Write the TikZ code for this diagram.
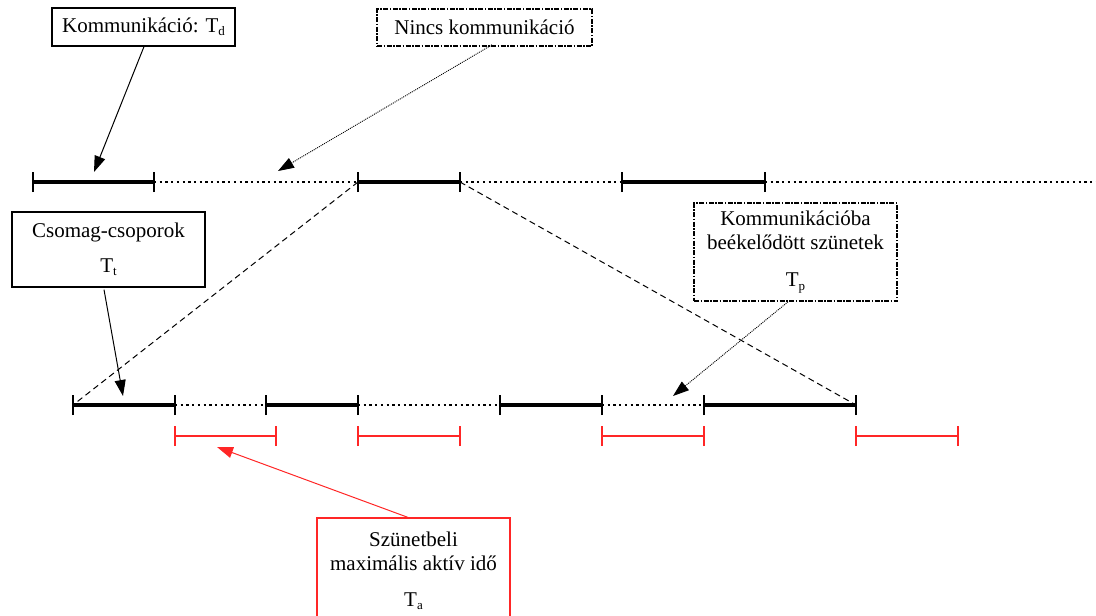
\documentclass[tikz,border=0pt]{standalone}
\usepackage{fontspec}
\setmainfont{Liberation Serif}
\usetikzlibrary{arrows.meta}
\newcommand{\subsc}[1]{\raisebox{-0.35ex}{\fontsize{13}{13}\selectfont #1}}
\begin{document}
\begin{tikzpicture}[x=1pt,y=-1pt,
  tickln/.style={line width=1.4pt},
  segln/.style={line width=3.2pt},
  gapln/.style={line width=2.2pt, dash pattern=on 2.3pt off 3.4pt},
  redln/.style={red!85!white, line width=1.6pt},
  zoomln/.style={line width=1pt, dash pattern=on 6pt off 4pt},
  lbl/.style={draw, line width=1.2pt, font=\fontsize{21}{24}\selectfont,
              align=center, inner sep=0pt},
  dashdot/.style={line width=1.6pt, dash pattern=on 5pt off 1.5pt on 1.5pt off 1.5pt},
  pointer/.style={-{Triangle[length=16pt,width=11pt]}, line width=1pt},
  dotpointer/.style={-{Triangle[length=16pt,width=11pt]}, line width=0.9pt,
              dash pattern=on 1pt off 1pt},
]
\clip (0,0) rectangle (1096,616);

% upper time axis
\foreach \n/\x in {1/33,2/154,3/358,4/460,5/622,6/765}
  \coordinate (t\n) at (\x,182);
\coordinate (tend) at (1100,182);
\draw[segln] (t1) -- (t2) (t3) -- (t4) (t5) -- (t6);
\draw[gapln] (t2) -- (t3) (t4) -- (t5) (t6) -- (tend);
\foreach \n in {1,...,6}
  \draw[tickln] ([yshift=-10pt]t\n) -- ([yshift=10pt]t\n);

% lower (expanded) time axis
\foreach \n/\x in {1/73,2/175,3/266,4/358,5/500,6/602,7/704,8/856}
  \coordinate (b\n) at (\x,405);
\draw[segln] (b1) -- (b2) (b3) -- (b4) (b5) -- (b6) (b7) -- (b8);
\draw[gapln] (b2) -- (b3) (b4) -- (b5) (b6) -- (b7);
\foreach \n in {1,...,8}
  \draw[tickln] ([yshift=-10pt]b\n) -- ([yshift=10pt]b\n);

% active time intervals
\foreach \n/\a/\b in {1/175/276,2/358/460,3/602/704,4/856/958}{
  \coordinate (ra\n) at (\a,436);
  \coordinate (rb\n) at (\b,436);
  \draw[redln] (ra\n) -- (rb\n);
  \draw[redln] ([yshift=-10pt]ra\n) -- ([yshift=10pt]ra\n);
  \draw[redln] ([yshift=-10pt]rb\n) -- ([yshift=10pt]rb\n);
}

% zoom lines
\draw[zoomln] (t3) -- (b1);
\draw[zoomln] (t4) -- (b8);

% labels
\node[lbl, minimum width=183pt, minimum height=38pt] (komm) at (143.5,27)
  {Kommunikáció: T\subsc{d}};
\node[lbl, dashdot, minimum width=215pt, minimum height=37pt] (nincs) at (484.5,27.5)
  {Nincs kommunikáció};
\node[lbl, minimum width=193pt, minimum height=75pt] (csomag) at (108.5,249.5)
  {Csomag-csoporok\\[11pt]T\subsc{t}};
\node[lbl, dashdot, minimum width=203pt, minimum height=98pt] (szun) at (795.5,252)
  {Kommunikációba\\beékelődött szünetek\\[13pt]T\subsc{p}};
\node[lbl, draw=red!85!white, minimum width=193pt, minimum height=106pt] (aktiv) at (413.5,571)
  {Szünetbeli\\maximális aktív idő\\[12pt]T\subsc{a}};

% pointers
\coordinate (pkomm) at (94,172);
\coordinate (pnincs) at (278,171);
\coordinate (pcsomag) at (123,396);
\coordinate (pszun) at (673,396);
\coordinate (paktiv) at (217,447);
\draw[pointer] ([xshift=0.5pt]komm.south) -- (pkomm);
\draw[dotpointer] ([xshift=7.5pt,yshift=2pt]nincs.south) -- (pnincs);
\draw[pointer] ([xshift=-4.5pt,yshift=-2pt]csomag.south) -- (pcsomag);
\draw[dotpointer] ([xshift=-7.5pt]szun.south) -- (pszun);
\draw[pointer, red!85!white] ([xshift=-5.5pt]aktiv.north) -- (paktiv);
\end{tikzpicture}
\end{document}
